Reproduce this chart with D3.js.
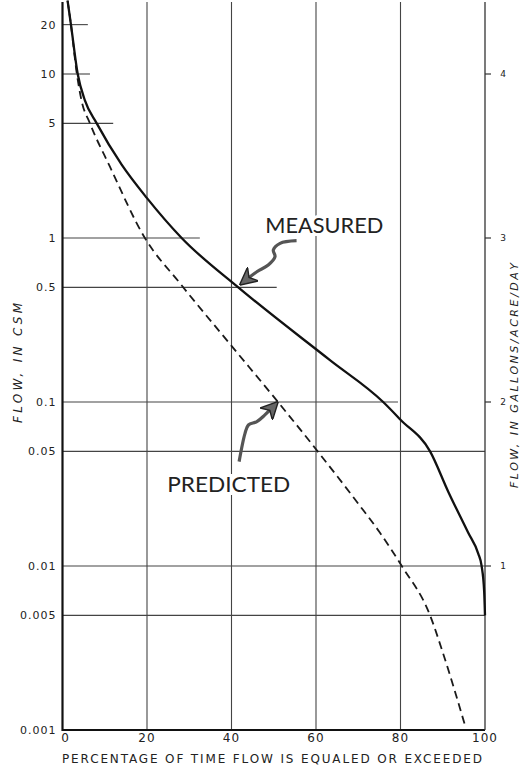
<!DOCTYPE html>
<html>
<head>
<meta charset="utf-8">
<script src="https://cdn.jsdelivr.net/npm/d3@7"></script>
<style>
  body { margin: 0; background: #fff; }
  svg { display: block; }
  text { font-family: "DejaVu Sans", sans-serif; fill: #222; }
</style>
</head>
<body>
<script>
// percent of time ticks
var pctTicks = [0, 20, 40, 60, 80, 100];
// left axis, flow in csm
var csmTicks = [20, 10, 5, 1, 0.5, 0.1, 0.05, 0.01, 0.005, 0.001];
var csmLabels = ["20", "10", "5", "1", "0.5", "0.1", "0.05", "0.01", "0.005", "0.001"];
// how far (percent) each horizontal grid line runs
var gridReach = [6, 6.5, 12, 32.5, 50.7, 79.4, 100, 100, 100];
// right axis labels
var galTicks = [1, 2, 3, 4];

// measured duration curve [percent, csm]
var measured = [
  [1.2, 28], [2.0, 20], [3.6, 10], [5.3, 6.9], [8.1, 5], [14, 2.8], [20, 1.75],
  [28.2, 1], [41.6, 0.5], [63.3, 0.18], [75.9, 0.1], [80, 0.078], [87, 0.05],
  [91.3, 0.0284], [96.0, 0.016], [98.4, 0.0119], [99.2, 0.01], [99.8, 0.007], [100, 0.005]
];
// predicted duration curve
var predicted = [
  [1.2, 28], [2.0, 20], [3.4, 10], [4.5, 6.9], [6.5, 5], [11.2, 2.73], [19.5, 1],
  [27.8, 0.53], [40, 0.22], [51, 0.1], [60.4, 0.05], [70, 0.024], [75.1, 0.016],
  [80.3, 0.01], [87, 0.005], [90.1, 0.00292], [95.3, 0.00106]
];

// annotation arrows, in data units
var measuredArrow = [[55.4, 0.963], [51.5, 0.928], [49.9, 0.845], [50.3, 0.769], [48.7, 0.684], [46.0, 0.623], [42.2, 0.524]];
var predictedArrow = [[41.8, 0.0433], [43.2, 0.0644], [44.0, 0.0724], [46.0, 0.0759], [47.9, 0.0834], [50.8, 0.099]];

var width = 521, height = 773;

var x = d3.scaleLinear().domain([0, 100]).range([62.5, 485]);
var y = d3.scaleLog().domain([0.001, 10]).range([730, 74]);
var topVal = y.invert(2);
// right axis: 1..4 lines up with 0.01..10 csm
var yR = d3.scaleLinear().domain([1, 4]).range([y(0.01), y(10)]);

var svg = d3.select("body").append("svg")
  .attr("width", width)
  .attr("height", height);

// vertical grid
svg.append("g").selectAll("line")
  .data(pctTicks.slice(1, 5))
  .enter().append("line")
  .attr("x1", d => x(d)).attr("x2", d => x(d))
  .attr("y1", y(0.001)).attr("y2", y(topVal))
  .attr("stroke", "#444").attr("stroke-width", 1.1);

// horizontal grid
svg.append("g").selectAll("line")
  .data(csmTicks.slice(0, 9))
  .enter().append("line")
  .attr("x1", x(0))
  .attr("x2", (d, i) => x(gridReach[i]))
  .attr("y1", d => y(d)).attr("y2", d => y(d))
  .attr("stroke", "#444").attr("stroke-width", 1.1);

// frame: left, bottom, right
svg.append("line")
  .attr("x1", x(0)).attr("x2", x(0)).attr("y1", y(0.001) + 1).attr("y2", y(topVal))
  .attr("stroke", "#111").attr("stroke-width", 2.2);
svg.append("line")
  .attr("x1", x(0)).attr("x2", x(100)).attr("y1", y(0.001)).attr("y2", y(0.001))
  .attr("stroke", "#111").attr("stroke-width", 2);
svg.append("line")
  .attr("x1", x(100)).attr("x2", x(100)).attr("y1", y(0.001)).attr("y2", y(topVal))
  .attr("stroke", "#333").attr("stroke-width", 1.3);

// left tick labels
svg.append("g").selectAll("text")
  .data(csmTicks)
  .enter().append("text")
  .attr("x", x(0) - 6)
  .attr("y", d => y(d) + 4)
  .attr("text-anchor", "end")
  .style("font-size", "11px")
  .style("letter-spacing", "1px")
  .text((d, i) => csmLabels[i]);

// bottom tick labels
svg.append("g").selectAll("text")
  .data(pctTicks)
  .enter().append("text")
  .attr("x", d => x(d) + (d == 0 ? 3 : 0))
  .attr("y", 742)
  .attr("text-anchor", "middle")
  .style("font-size", "12px")
  .style("letter-spacing", "1px")
  .text(d => d);

// right axis ticks
svg.append("g").selectAll("line")
  .data(galTicks)
  .enter().append("line")
  .attr("x1", x(100)).attr("x2", x(100) + 6)
  .attr("y1", d => yR(d)).attr("y2", d => yR(d))
  .attr("stroke", "#333").attr("stroke-width", 1.2);
svg.append("g").selectAll("text")
  .data(galTicks)
  .enter().append("text")
  .attr("x", x(100) + 18)
  .attr("y", d => yR(d) + 3)
  .attr("text-anchor", "middle")
  .style("font-size", "9px")
  .text(d => d);

// axis titles
svg.append("text")
  .attr("transform", "translate(22," + 363 + ") rotate(-90)")
  .attr("text-anchor", "middle")
  .attr("textLength", 120)
  .attr("lengthAdjust", "spacing")
  .style("font-size", "12px")
  .style("font-style", "italic")
  .text("FLOW, IN CSM");

svg.append("text")
  .attr("transform", "translate(518,488) rotate(-90)")
  .attr("text-anchor", "start")
  .attr("textLength", 225)
  .attr("lengthAdjust", "spacing")
  .style("font-size", "11px")
  .style("font-style", "italic")
  .text("FLOW, IN GALLONS/ACRE/DAY");

svg.append("text")
  .attr("x", 62).attr("y", 763)
  .attr("textLength", 420)
  .attr("lengthAdjust", "spacing")
  .style("font-size", "12px")
  .text("PERCENTAGE OF TIME FLOW IS EQUALED OR EXCEEDED");

// curves
var line = d3.line()
  .x(d => x(d[0]))
  .y(d => y(d[1]))
  .curve(d3.curveMonotoneX);

svg.append("path")
  .datum(predicted)
  .attr("fill", "none")
  .attr("stroke", "#1a1a1a")
  .attr("stroke-width", 1.8)
  .attr("stroke-dasharray", "8,5")
  .attr("d", line);

svg.append("path")
  .datum(measured)
  .attr("fill", "none")
  .attr("stroke", "#111")
  .attr("stroke-width", 2.3)
  .attr("stroke-linejoin", "round")
  .attr("d", line);

// labels with white background
function label(txt, px, val, len) {
  svg.append("text")
    .attr("x", x(px)).attr("y", y(val))
    .attr("textLength", len)
    .attr("lengthAdjust", "spacingAndGlyphs")
    .style("font-family", "Lato, sans-serif")
    .style("font-size", "21px")
    .style("stroke", "#fff").style("stroke-width", 6)
    .style("paint-order", "stroke")
    .text(txt);
}
label("MEASURED", 48, 1.08, 118);
label("PREDICTED", 24.8, 0.0283, 123);

// arrows
svg.append("defs").append("marker")
  .attr("id", "head")
  .attr("viewBox", "0 0 10 10")
  .attr("refX", 9).attr("refY", 5)
  .attr("markerWidth", 5.5).attr("markerHeight", 5.5)
  .attr("markerUnits", "strokeWidth")
  .attr("orient", "auto")
  .append("path")
  .attr("d", "M0,0 L10,5 L0,10 L3,5 Z")
  .attr("fill", "#666").attr("stroke", "#222").attr("stroke-width", 0.8);

var arrowLine = d3.line()
  .x(d => x(d[0]))
  .y(d => y(d[1]))
  .curve(d3.curveCatmullRom);

[measuredArrow, predictedArrow].forEach(function(a) {
  svg.append("path")
    .datum(a)
    .attr("fill", "none")
    .attr("stroke", "#555")
    .attr("stroke-width", 3.2)
    .attr("marker-end", "url(#head)")
    .attr("d", arrowLine);
});
</script>
</body>
</html>
